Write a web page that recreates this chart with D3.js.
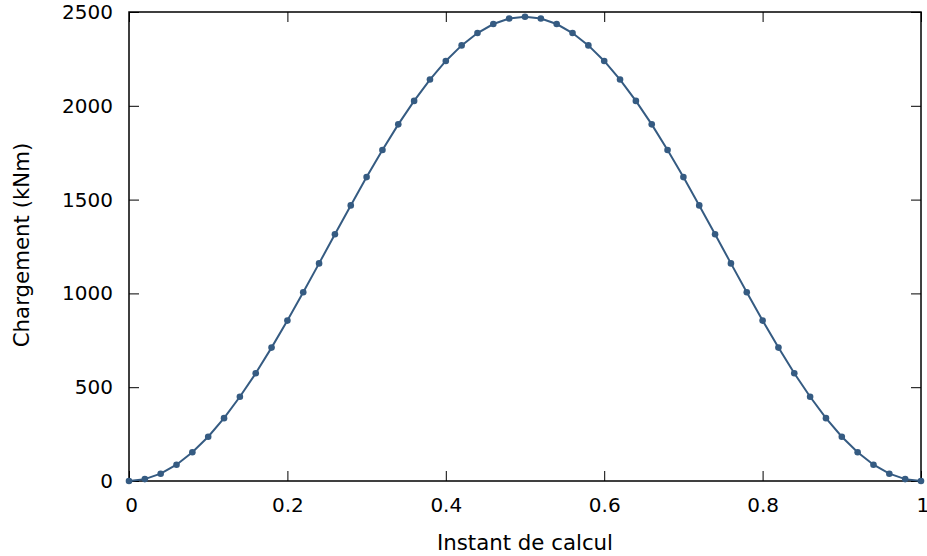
<!DOCTYPE html>
<html><head><meta charset="utf-8">
<script src="https://cdn.jsdelivr.net/npm/d3@7"></script>
<style>body{margin:0;background:#fff;} svg{display:block;} text{font-family:"DejaVu Sans",sans-serif;}</style>
</head><body>
<svg id="c" width="927" height="556"></svg>
<script>
const xValues = [0,0.02,0.04,0.06,0.08,0.1,0.12,0.14,0.16,0.18,0.2,0.22,0.24,0.26,0.28,0.3,0.32,0.34,0.36,0.38,0.4,0.42,0.44,0.46,0.48,0.5,0.52,0.54,0.56,0.58,0.6,0.62,0.64,0.66,0.68,0.7,0.72,0.74,0.76,0.78,0.8,0.82,0.84,0.86,0.88,0.9,0.92,0.94,0.96,0.98,1];
const yValues = [0,10,39,87,153,236,335,449,574,711,855,1006,1160,1315,1469,1620,1764,1901,2026,2140,2239,2322,2388,2436,2465,2475,2465,2436,2388,2322,2239,2140,2026,1901,1764,1620,1469,1315,1160,1006,855,711,574,449,335,236,153,87,39,10,0];
const xTicks = [0,0.2,0.4,0.6,0.8,1];
const xTickLabels = ["0","0.2","0.4","0.6","0.8","1"];
const yTicks = [0,500,1000,1500,2000,2500];
const xTitle = "Instant de calcul";
const yTitle = "Chargement (kNm)";

const svg = d3.select("#c");
const L = 129, R = 921, T = 12, B = 481;
const x = d3.scaleLinear().domain([0,1]).range([L,R]);
const y = d3.scaleLinear().domain([0,2500]).range([B,T]);
const fs = 20, tfs = 21.3, tl = 10;

// bottom axis
const gb = svg.append("g").attr("transform",`translate(0,${B})`)
  .call(d3.axisBottom(x).tickValues(xTicks).tickFormat((d,i)=>xTickLabels[i]).tickSizeInner(-tl).tickSizeOuter(0).tickPadding(17));
// top axis
const gt = svg.append("g").attr("transform",`translate(0,${T})`)
  .call(d3.axisTop(x).tickValues(xTicks).tickFormat("").tickSizeInner(-tl).tickSizeOuter(0));
// left axis
const gl = svg.append("g").attr("transform",`translate(${L},0)`)
  .call(d3.axisLeft(y).tickValues(yTicks).tickFormat(d3.format("d")).tickSizeInner(-tl).tickSizeOuter(0).tickPadding(16));
// right axis
const gr = svg.append("g").attr("transform",`translate(${R},0)`)
  .call(d3.axisRight(y).tickValues(yTicks).tickFormat("").tickSizeInner(-tl).tickSizeOuter(0));

[gb,gt,gl,gr].forEach(g=>{
  g.select(".domain").remove();
  g.selectAll(".tick line").attr("stroke","#000").attr("stroke-width",1);
  g.selectAll("text").attr("fill","#000").style("font-size",fs+"px").style("font-family","DejaVu Sans");
});
gb.selectAll(".tick").filter(d=>d===1).select("text").attr("text-anchor","start").attr("dx","-5");
gb.selectAll(".tick").filter(d=>d===0).select("text").attr("dx","2");

// frame
svg.append("rect").attr("x",L).attr("y",T).attr("width",R-L).attr("height",B-T)
  .attr("fill","none").attr("stroke","#000").attr("stroke-width",1.5);

const data = xValues.map((v,i)=>({x:v,y:yValues[i]}));
const col = "#355b82";
svg.append("path").datum(data)
  .attr("fill","none").attr("stroke",col).attr("stroke-width",2)
  .attr("d", d3.line().x(d=>x(d.x)).y(d=>y(d.y)));
svg.append("g").selectAll("circle").data(data).join("circle")
  .attr("cx",d=>x(d.x)).attr("cy",d=>y(d.y)).attr("r",3.3).attr("fill",col);

svg.append("text").attr("x",525).attr("y",550).attr("text-anchor","middle")
  .style("font-size",tfs+"px").text(xTitle);
svg.append("text").attr("transform",`translate(29,${245}) rotate(-90)`).attr("text-anchor","middle")
  .style("font-size",tfs+"px").text(yTitle);
</script>
</body></html>
